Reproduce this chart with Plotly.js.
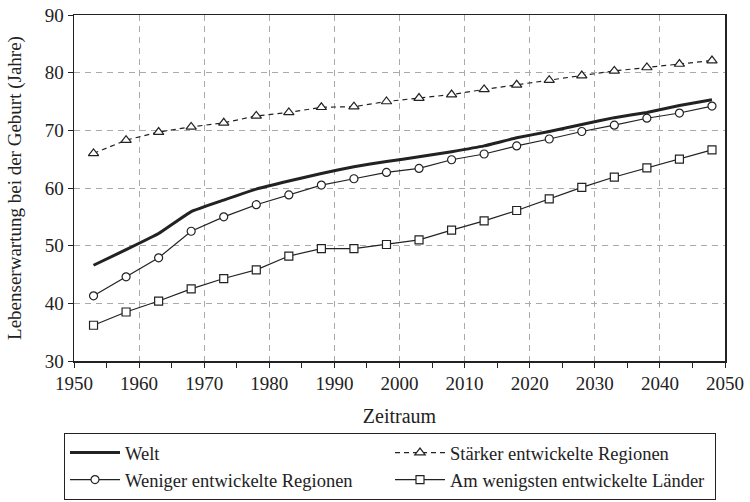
<!DOCTYPE html>
<html>
<head>
<meta charset="utf-8">
<script src="https://cdn.plot.ly/plotly-3.0.1.min.js"></script>
<style>html,body{margin:0;padding:0;background:#fff;}#chart{width:750px;height:502px;}</style>
</head>
<body>
<div id="chart"></div>
<script>
const years = [1953,1958,1963,1968,1973,1978,1983,1988,1993,1998,2003,2008,2013,2018,2023,2028,2033,2038,2043,2048];
const welt = [46.6,49.3,52.1,55.9,57.9,59.8,61.2,62.5,63.7,64.6,65.4,66.3,67.3,68.7,69.8,71.0,72.2,73.1,74.3,75.3];
const staerker = [66.0,68.3,69.7,70.6,71.3,72.5,73.1,74.0,74.1,75.0,75.6,76.2,77.1,77.9,78.7,79.5,80.3,80.9,81.5,82.1];
const weniger = [41.3,44.6,47.9,52.5,55.0,57.1,58.8,60.5,61.6,62.7,63.4,64.9,65.9,67.3,68.5,69.8,70.9,72.1,73.0,74.2];
const amWenigsten = [36.2,38.5,40.4,42.5,44.3,45.8,48.2,49.5,49.5,50.2,51.0,52.7,54.3,56.1,58.1,60.1,61.9,63.5,65.0,66.6];
const names = ["Welt","Stärker entwickelte Regionen","Weniger entwickelte Regionen","Am wenigsten entwickelte Länder"];

const ink = "#222";
const font = "Liberation Serif";
const mk = (sym, size) => ({symbol: sym, size: size, color: "#fff", line: {color: ink, width: 1.2}});

const traces = [
  {x: years, y: welt, name: names[0], mode: "lines", line: {color: ink, width: 3, shape: "spline", smoothing: 0.3}},
  {x: years, y: staerker, name: names[1], mode: "lines+markers", line: {color: ink, width: 1.2, dash: "5px,4px"}, marker: mk("triangle-up", 9)},
  {x: years, y: weniger, name: names[2], mode: "lines+markers", line: {color: ink, width: 1.2}, marker: mk("circle", 8)},
  {x: years, y: amWenigsten, name: names[3], mode: "lines+markers", line: {color: ink, width: 1.2}, marker: mk("square", 8)}
];

const layout = {
  width: 750, height: 502,
  margin: {l: 74, r: 25, t: 15, b: 141},
  paper_bgcolor: "#fff", plot_bgcolor: "#fff",
  font: {family: font, color: ink, size: 18},
  showlegend: true,
  legend: {
    orientation: "h", xref: "container", yref: "container",
    x: 64/750, xanchor: "left", y: 1 - 433/502, yanchor: "top",
    bordercolor: ink, borderwidth: 1, bgcolor: "#fff",
    font: {family: font, size: 18.5, color: ink},
    entrywidth: 260, entrywidthmode: "pixels", itemwidth: 50, tracegroupgap: 0
  },
  xaxis: {
    range: [1950, 2050], dtick: 10, tick0: 1950, automargin: false,
    showline: true, linecolor: ink, linewidth: 1.5, mirror: true,
    ticks: "outside", ticklen: 5, tickcolor: ink,
    minor: {dtick: 5, ticks: "outside", ticklen: 5, tickcolor: ink, showgrid: false},
    showgrid: true, gridcolor: "#aaa", griddash: "6px,5px", gridwidth: 1,
    zeroline: false,
    tickfont: {family: font, size: 19, color: ink},
    title: {text: "Zeitraum", font: {family: font, size: 20, color: ink}, standoff: 15}
  },
  yaxis: {
    range: [30, 90], dtick: 10, automargin: false,
    showline: true, linecolor: ink, linewidth: 1.5, mirror: true,
    ticks: "outside", ticklen: 5, tickcolor: ink,
    showgrid: true, gridcolor: "#aaa", griddash: "6px,5px", gridwidth: 1,
    zeroline: false,
    tickfont: {family: font, size: 19, color: ink},
    title: {text: "Lebenserwartung bei der Geburt (Jahre)", font: {family: font, size: 19, color: ink}, standoff: 18}
  }
};

Plotly.newPlot("chart", traces, layout, {staticPlot: true, displayModeBar: false});
</script>
</body>
</html>
